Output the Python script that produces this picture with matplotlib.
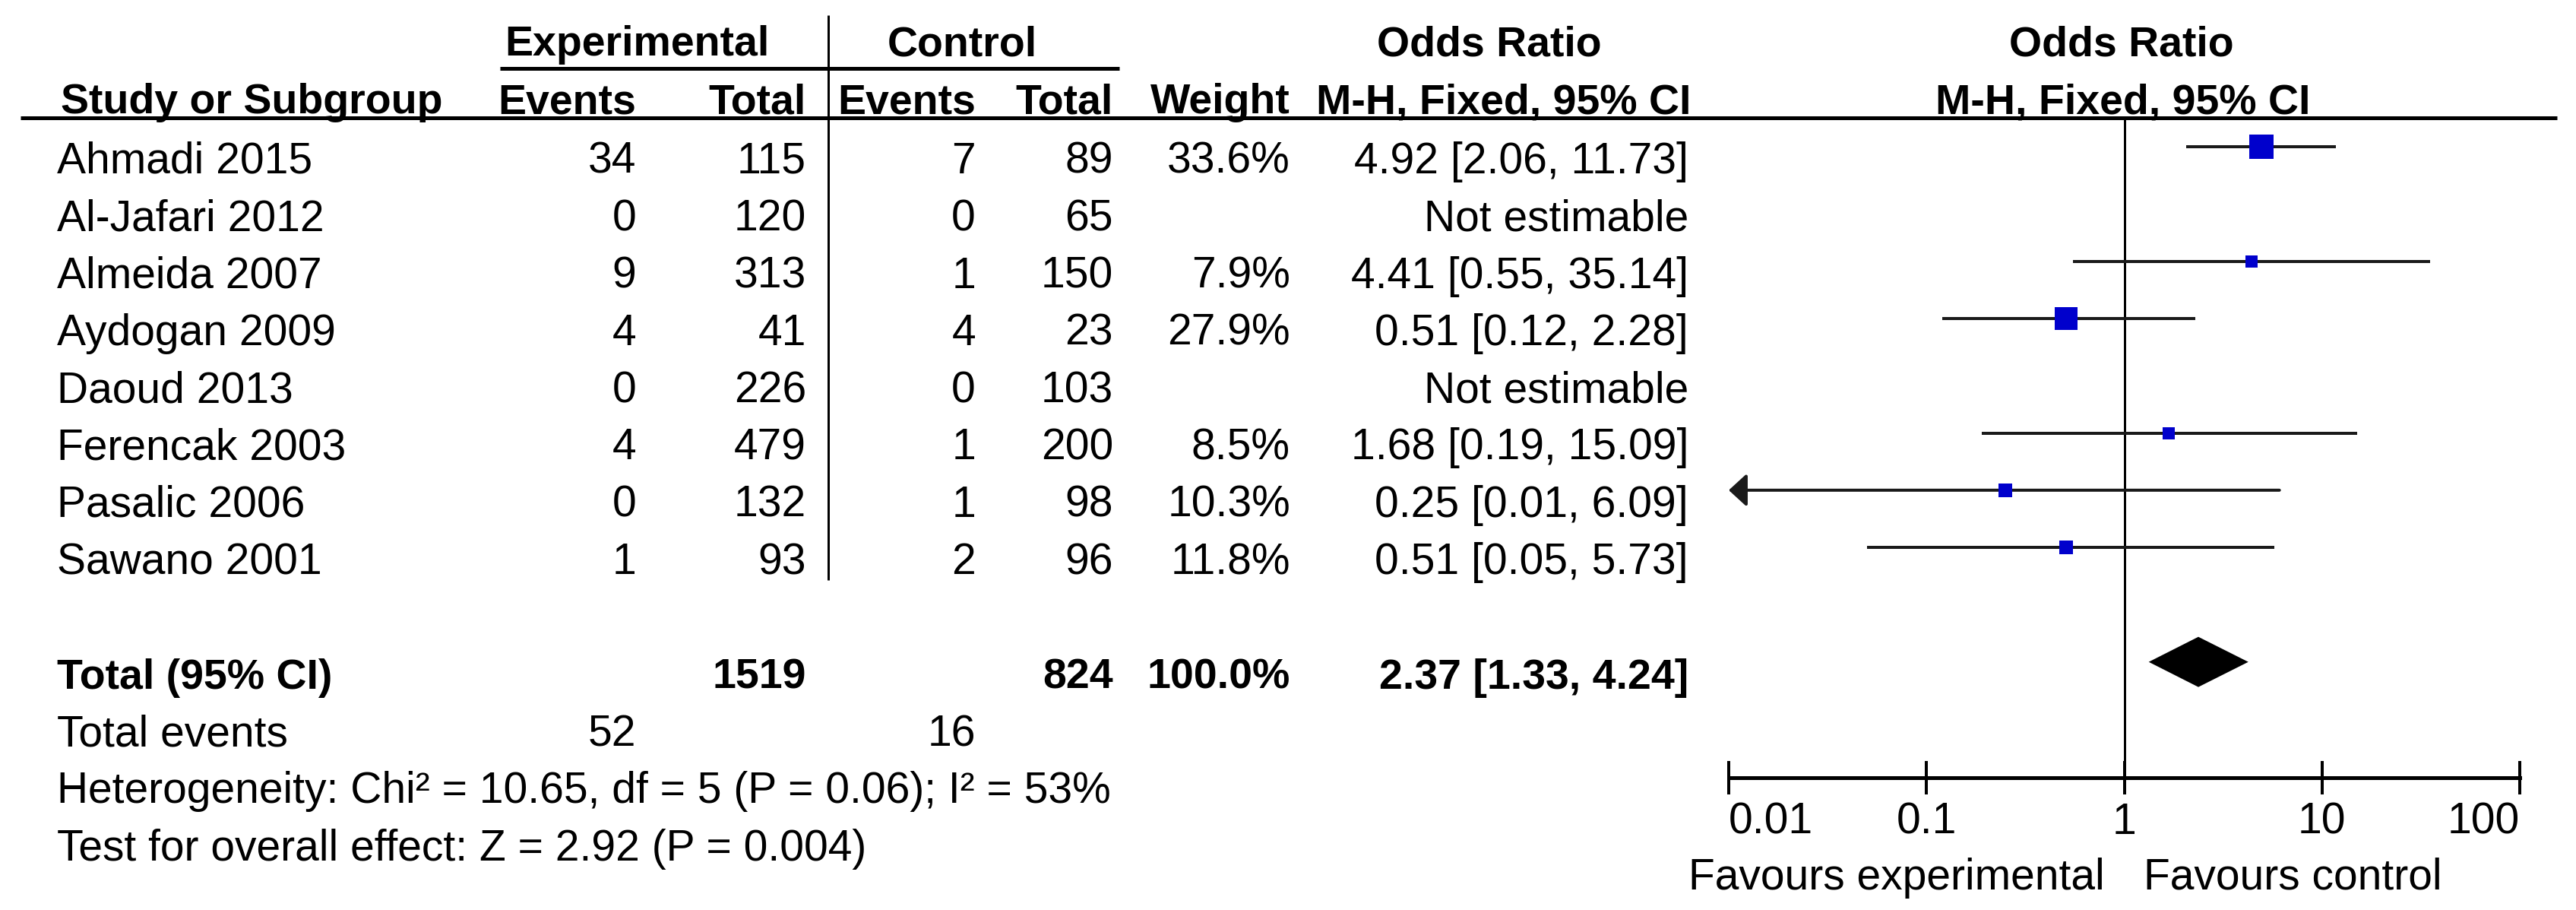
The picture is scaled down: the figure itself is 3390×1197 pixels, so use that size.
import matplotlib
matplotlib.use("Agg")
import matplotlib.pyplot as plt
from matplotlib.ticker import NullLocator


# data
studies = ["Ahmadi 2015", "Al-Jafari 2012", "Almeida 2007", "Aydogan 2009",
           "Daoud 2013", "Ferencak 2003", "Pasalic 2006", "Sawano 2001"]
exp_events = [34, 0, 9, 4, 0, 4, 0, 1]
exp_total = [115, 120, 313, 41, 226, 479, 132, 93]
ctl_events = [7, 0, 1, 4, 0, 1, 1, 2]
ctl_total = [89, 65, 150, 23, 103, 200, 98, 96]
weights = [33.6, None, 7.9, 27.9, None, 8.5, 10.3, 11.8]
odds = [4.92, None, 4.41, 0.51, None, 1.68, 0.25, 0.51]
ci_low = [2.06, None, 0.55, 0.12, None, 0.19, 0.01, 0.05]
ci_high = [11.73, None, 35.14, 2.28, None, 15.09, 6.09, 5.73]

total_exp, total_ctl = 1519, 824
events_exp, events_ctl = 52, 16
total_or, total_low, total_high = 2.37, 1.33, 4.24
heterogeneity = "Heterogeneity: Chi\u00b2 = 10.65, df = 5 (P = 0.06); I\u00b2 = 53%"
overall = "Test for overall effect: Z = 2.92 (P = 0.004)"

ticks = [0.01, 0.1, 1, 10, 100]
tick_labels = ["0.01", "0.1", "1", "10", "100"]

# layout, in output pixels
W, H, DPI = 3390, 1197, 100
ROW0, DY = 207, 75.3
HEAD1, HEAD2 = 52, 128
UNDERLINE_Y, HEADLINE_Y = 90, 155
COL_NAME = 75
COL_EXP_EV, COL_EXP_TOT = 837, 1061
COL_CTL_EV, COL_CTL_TOT = 1284, 1465
COL_WEIGHT, COL_CI = 1698, 2222
SEP_X = 1090
AX_LEFT, AX_RIGHT, AX_Y = 2275, 3316, 1023
MARK_DY = -14  # boxes sit a little above the text line
CAP = 21
FS, FS_BOLD = 41, 40
BLUE = "#0000cc"
LINE = "#1a1a1a"


def px(v):
    return v * 72.0 / DPI


def row_y(i):
    return ROW0 + i * DY


def put(ax, x, y, s, ha="right", bold=False):
    ax.text(x, y + CAP, s, ha=ha, va="baseline",
            fontsize=FS_BOLD if bold else FS,
            fontweight="bold" if bold else "normal")


def draw_table(tab):
    put(tab, 838, HEAD1, "Experimental", ha="center", bold=True)
    put(tab, 1266, HEAD1, "Control", ha="center", bold=True)
    put(tab, 1960, HEAD1, "Odds Ratio", ha="center", bold=True)
    put(tab, 2792, HEAD1, "Odds Ratio", ha="center", bold=True)

    put(tab, 80, HEAD2, "Study or Subgroup", ha="left", bold=True)
    put(tab, COL_EXP_EV, HEAD2, "Events", bold=True)
    put(tab, COL_EXP_TOT, HEAD2, "Total", bold=True)
    put(tab, COL_CTL_EV, HEAD2, "Events", bold=True)
    put(tab, COL_CTL_TOT, HEAD2, "Total", bold=True)
    put(tab, COL_WEIGHT, HEAD2, "Weight", bold=True)
    put(tab, COL_CI + 3, HEAD2, "M-H, Fixed, 95% CI", bold=True)
    put(tab, 2794, HEAD2, "M-H, Fixed, 95% CI", ha="center", bold=True)

    tab.hlines(UNDERLINE_Y, 658, SEP_X, color="black", lw=px(5))
    tab.hlines(UNDERLINE_Y, SEP_X, 1473, color="black", lw=px(5))
    tab.hlines(HEADLINE_Y, 27, 3365, color="black", lw=px(5))
    tab.vlines(SEP_X, 20, row_y(len(studies) - 1) + 29, color="black", lw=px(3))

    for i, name in enumerate(studies):
        y = row_y(i)
        put(tab, COL_NAME, y, name, ha="left")
        put(tab, COL_EXP_EV, y, str(exp_events[i]))
        put(tab, COL_EXP_TOT, y, str(exp_total[i]))
        put(tab, COL_CTL_EV, y, str(ctl_events[i]))
        put(tab, COL_CTL_TOT, y, str(ctl_total[i]))
        if odds[i] is None:
            put(tab, COL_CI, y, "Not estimable")
        else:
            put(tab, COL_WEIGHT, y, f"{weights[i]:.1f}%")
            put(tab, COL_CI, y, f"{odds[i]:.2f} [{ci_low[i]:.2f}, {ci_high[i]:.2f}]")

    y = row_y(len(studies) + 1)
    put(tab, COL_NAME, y, "Total (95% CI)", ha="left", bold=True)
    put(tab, COL_EXP_TOT, y, str(total_exp), bold=True)
    put(tab, COL_CTL_TOT, y, str(total_ctl), bold=True)
    put(tab, COL_WEIGHT, y, "100.0%", bold=True)
    put(tab, COL_CI, y, f"{total_or:.2f} [{total_low:.2f}, {total_high:.2f}]", bold=True)

    y = row_y(len(studies) + 2)
    put(tab, COL_NAME, y, "Total events", ha="left")
    put(tab, COL_EXP_EV, y, str(events_exp))
    put(tab, COL_CTL_EV, y, str(events_ctl))
    put(tab, COL_NAME, row_y(len(studies) + 3), heterogeneity, ha="left")
    put(tab, COL_NAME, row_y(len(studies) + 4), overall, ha="left")

    put(tab, 2770, 1149, "Favours experimental", ha="right")
    put(tab, 2821, 1149, "Favours control", ha="left")


def draw_forest(fp):
    fp.set_xscale("log")
    fp.set_xlim(ticks[0], ticks[-1])
    fp.set_ylim(H, 0)
    fp.patch.set_visible(False)
    for side in ["top", "left", "right"]:
        fp.spines[side].set_visible(False)
    fp.spines["bottom"].set_position(("data", AX_Y))
    fp.spines["bottom"].set_linewidth(px(5))
    fp.set_yticks([])
    fp.set_xticks(ticks)
    fp.set_xticklabels(tick_labels)
    fp.xaxis.set_minor_locator(NullLocator())
    fp.tick_params(axis="x", direction="inout", length=px(44), width=px(4),
                   pad=7, labelsize=FS)
    aligns = ["left", "center", "center", "center", "right"]
    for lbl, ha in zip(fp.get_xticklabels(), aligns):
        lbl.set_ha(ha)

    fp.vlines(1, HEADLINE_Y, AX_Y, color="black", lw=px(3), zorder=1)

    for i in range(len(studies)):
        if odds[i] is None:
            continue
        y = row_y(i) + MARK_DY
        if ci_low[i] <= ticks[0]:
            # CI runs off the scale: arrow at the left end
            fp.annotate("", xy=(ticks[0], y), xytext=(ci_high[i], y),
                        arrowprops=dict(arrowstyle="-|>,head_length=0.48,head_width=0.44",
                                        color=LINE, lw=px(4),
                                        shrinkA=0, shrinkB=0, mutation_scale=30),
                        zorder=2)
        else:
            fp.hlines(y, ci_low[i], ci_high[i], color=LINE, lw=px(4), zorder=2)
        side = 32 * (weights[i] / 33.6) ** 0.5
        fp.plot(odds[i], y, marker="s", ms=px(side), color=BLUE, mec=BLUE,
                mew=0, zorder=3)

    y = row_y(len(studies) + 1) + MARK_DY
    fp.fill([total_low, total_or, total_high, total_or],
            [y, y - 33, y, y + 33], color="black", lw=0, zorder=3)


def main():
    plt.rcParams["font.family"] = ["Liberation Sans", "DejaVu Sans"]
    fig = plt.figure(figsize=(W / DPI, H / DPI), dpi=DPI)
    fig.patch.set_facecolor("white")

    tab = fig.add_axes([0, 0, 1, 1])
    tab.set_xlim(0, W)
    tab.set_ylim(H, 0)
    tab.axis("off")
    draw_table(tab)

    fp = fig.add_axes([AX_LEFT / W, 0, (AX_RIGHT - AX_LEFT) / W, 1])
    draw_forest(fp)

    fig.savefig("out.png", dpi=DPI, facecolor="white")
    plt.close(fig)


if __name__ == "__main__":
    main()
